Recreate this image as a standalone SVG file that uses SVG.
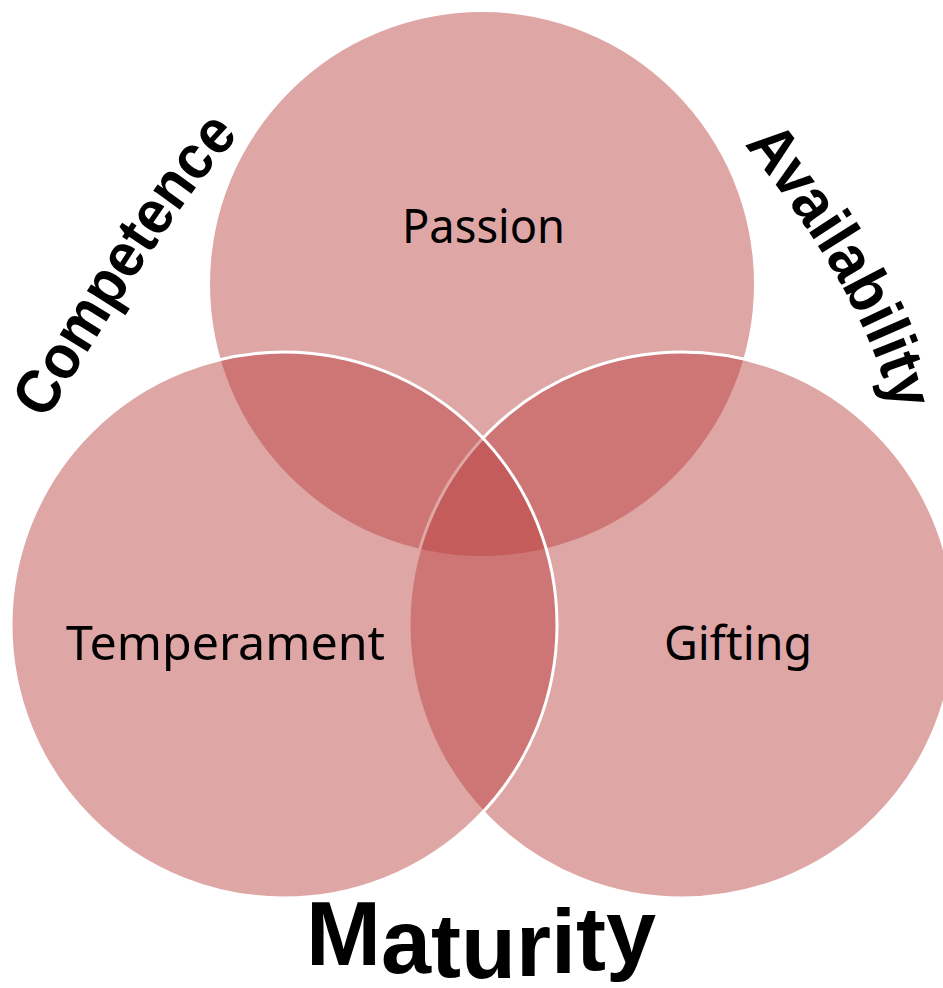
<svg xmlns="http://www.w3.org/2000/svg" xmlns:xlink="http://www.w3.org/1999/xlink" width="943" height="988" viewBox="0 0 943 988">
<defs>
<style>
.c{fill:#BA3E3E;fill-opacity:0.46}
.s{stroke:#FFFFFF;stroke-width:3}
.lbl{font-family:"Noto Sans","Open Sans","Liberation Sans",sans-serif;font-size:48px;fill:#000}
.arc{font-family:"Liberation Sans",Arial,sans-serif;font-weight:bold;fill:#000}
</style>
<path id="pComp" d="M46,421 Q184,189 239,137 L290,90"/>
<path id="pAvail" d="M744,144 Q861,289 890,402 L903,455"/>
</defs>
<rect width="943" height="988" fill="#FFFFFF"/>
<g id="passion">
<circle class="c" cx="482" cy="284" r="272"/>
<text class="lbl" x="402" y="243" textLength="163" lengthAdjust="spacingAndGlyphs">Passion</text>
</g>
<g id="gifting">
<circle class="c s" cx="682" cy="625" r="273"/>
</g>
<g id="temperament">
<circle class="c s" cx="284" cy="625" r="273"/>
</g>
<g id="labels">
<text class="lbl" x="66" y="660" textLength="319" lengthAdjust="spacingAndGlyphs">Temperament</text>
<text class="lbl" x="664" y="660" textLength="148" lengthAdjust="spacingAndGlyphs">Gifting</text>
</g>
<g id="competence">
<text class="arc" font-size="62"><textPath xlink:href="#pComp" href="#pComp" textLength="345" lengthAdjust="spacingAndGlyphs">Competence</textPath></text>
</g>
<g id="availability">
<text class="arc" font-size="63"><textPath xlink:href="#pAvail" href="#pAvail" textLength="308" lengthAdjust="spacingAndGlyphs">Availability</textPath></text>
</g>
<g id="maturity">
<text class="arc" font-size="90" x="306" y="965 973 977 978 976 973 970 963">Maturity</text>
</g>
</svg>
